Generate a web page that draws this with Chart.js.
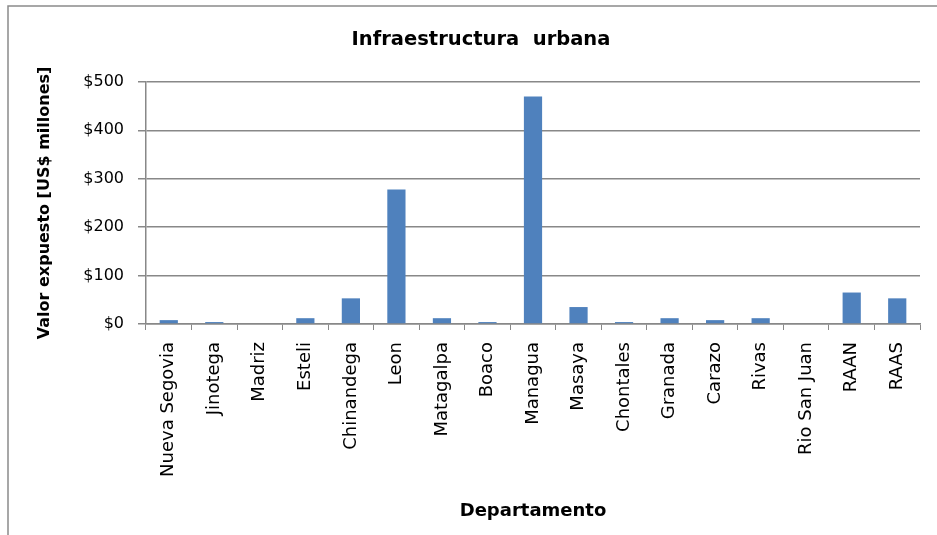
<!DOCTYPE html>
<html>
<head>
<meta charset="utf-8">
<script src="https://cdn.jsdelivr.net/npm/chart.js@4.4.1/dist/chart.umd.min.js"></script>
<style>
  html, body { margin: 0; padding: 0; background: #fff; }
  canvas { display: block; }
</style>
</head>
<body>
<canvas id="c" width="937" height="535"></canvas>
<script>
// ---- data ----
const categories = ["Nueva Segovia", "Jinotega", "Madriz", "Esteli", "Chinandega", "Leon",
  "Matagalpa", "Boaco", "Managua", "Masaya", "Chontales", "Granada", "Carazo", "Rivas",
  "Rio San Juan", "RAAN", "RAAS"];
const valores = [8, 4, 0, 12, 53, 278, 12, 4, 470, 35, 4, 12, 8, 12, 0, 65, 53];
const yTickValues = [0, 100, 200, 300, 400, 500];
const chartTitle = "Infraestructura  urbana";
const xTitle = "Departamento";
const yTitle = "Valor expuesto [US$ millones]";

const GRID = '#888888';
Chart.defaults.color = '#000';
Chart.defaults.font.family = '"DejaVu Sans", sans-serif';

const framePlugin = {
  id: 'frame',
  beforeDraw(chart) {
    const ctx = chart.ctx;
    ctx.save();
    ctx.fillStyle = '#fff';
    ctx.fillRect(0, 0, chart.width, chart.height);
    ctx.strokeStyle = '#8a8a8a';
    ctx.lineWidth = 1.5;
    ctx.strokeRect(8, 6, 1200, 1200);
    ctx.restore();
  }
};

new Chart(document.getElementById('c'), {
  type: 'bar',
  data: {
    labels: categories,
    datasets: [{
      data: valores,
      backgroundColor: '#4F81BD',
      borderWidth: 0,
      barPercentage: 0.4,
      categoryPercentage: 1.0
    }]
  },
  options: {
    responsive: false,
    animation: false,
    devicePixelRatio: 1,
    layout: { padding: { left: 25, right: 0, top: 0, bottom: 0 } },
    plugins: {
      legend: { display: false },
      tooltip: { enabled: false },
      title: {
        display: true,
        text: chartTitle,
        color: '#000',
        font: { size: 19.5, weight: 'bold' },
        padding: { top: 28, bottom: 30.5 }
      }
    },
    scales: {
      x: {
        grid: { display: true, drawOnChartArea: false, drawTicks: true, tickLength: 6, color: GRID, offset: true },
        border: { display: true, color: GRID, width: 1.5 },
        ticks: { autoSkip: false, minRotation: 90, maxRotation: 90, padding: 12, font: { size: 18 }, color: '#000' },
        title: { display: true, text: xTitle, color: '#000', font: { size: 18, weight: 'bold' }, padding: { top: 0, bottom: 13 } },
        afterFit(s) { s.height = 211; }
      },
      y: {
        min: yTickValues[0],
        max: yTickValues[yTickValues.length - 1],
        afterBuildTicks(s) { s.ticks = yTickValues.map(v => ({ value: v })); },
        grid: { color: GRID, lineWidth: 1.5, tickLength: 8, drawTicks: true },
        border: { display: true, color: GRID, width: 1.5 },
        ticks: { padding: 14, font: { size: 16 }, color: '#000', callback: v => '$' + v },
        title: { display: true, text: yTitle, color: '#000', font: { size: 16, weight: 'bold' }, padding: { top: 10, bottom: 0 } },
        afterFit(s) { s.width = 121; }
      },
      yR: {
        type: 'linear',
        position: 'right',
        display: true,
        grid: { display: false },
        border: { display: false },
        ticks: { display: false },
        afterFit(s) { s.width = 17; }
      }
    }
  },
  plugins: [framePlugin]
});
</script>
</body>
</html>
